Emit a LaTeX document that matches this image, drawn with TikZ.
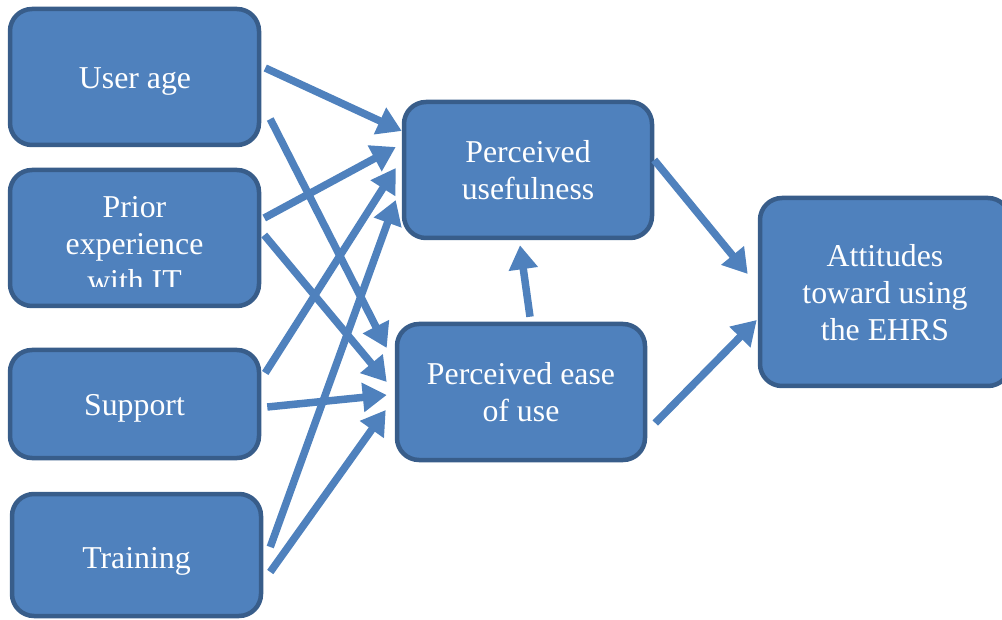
\documentclass[tikz,border=0pt]{standalone}
\usepackage{fontspec}
\setmainfont{Liberation Serif}
\usetikzlibrary{arrows.meta,calc}
\definecolor{boxfill}{HTML}{4F81BD}
\definecolor{boxline}{HTML}{385D8A}
\begin{document}
\begin{tikzpicture}[x=1pt,y=-1pt,
  box/.style={draw=boxline, line width=4.5pt, fill=boxfill, rounded corners=22pt, inner sep=0pt},
  lbl/.style={text=white, align=center, inner sep=0pt, anchor=base, font=\fontsize{31.8}{37}\selectfont},
  link/.style={draw=boxfill, line width=7.5pt, -{Triangle[length=24pt,width=28pt]}},
]
\useasboundingbox (0,0) rectangle (1002,620);
\clip (0,0) rectangle (1002,620);

% factor boxes
\node[box, minimum width=249pt, minimum height=136pt] (ua) at (134.5,77) {};
\node[box, minimum width=249pt, minimum height=136pt] (pe) at (134.5,238) {};
\node[box, minimum width=249pt, minimum height=108pt] (su) at (134.5,404) {};
\node[box, minimum width=249pt, minimum height=122pt] (tr) at (136.5,555) {};
% model boxes
\node[box, minimum width=248pt, minimum height=136pt] (pu) at (528,170) {};
\node[box, minimum width=248pt, minimum height=136pt] (pq) at (521,392) {};
\node[box, minimum width=250pt, minimum height=188pt] (at) at (885,292) {};

% labels (base anchor sits on the last line)
\node[lbl] (ua-t) at (135,89) {User age};
\begin{scope}
  \clip (10,170) rectangle (259,287);
  \node[lbl] (pe-t) at (134.5,292) {Prior\\experience\\with IT};
\end{scope}
\node[lbl] (su-t) at (134.5,415) {Support};
\node[lbl] (tr-t) at (136.5,568) {Training};
\node[lbl] (pu-t) at (528,200) {Perceived\\usefulness};
\node[lbl] (pq-t) at (521,421) {Perceived ease\\of use};
\node[lbl] (at-t) at (885,341) {Attitudes\\toward using\\the EHRS};

% paths
\draw[link] ($(ua.east)+(4,-9)$) -- ($(pu.west)+(0,-39)$);
\draw[link] ($(ua.east)+(9,42)$) -- ($(pq.west)+(-8,-44)$);
\draw[link] ($(pe.east)+(3,-20)$) -- ($(pu.west)+(-6,-23)$);
\draw[link] ($(pe.east)+(3,-3)$) -- ($(pq.west)+(-8,-10)$);
\draw[link] ($(su.east)+(4,-31)$) -- ($(pu.west)+(-6,-2)$);
\draw[link] ($(su.east)+(6,3)$) -- ($(pq.west)+(-8,3)$);
\draw[link] ($(tr.east)+(7,-8)$) -- ($(pu.west)+(-6,30)$);
\draw[link] ($(tr.east)+(7,17)$) -- ($(pq.west)+(-9,18)$);
\draw[link] ($(pq.north)+(9,-5)$) -- ($(pu.south)+(-8,5)$);
\draw[link] ($(pu.east)+(0,-10)$) -- ($(at.west)+(-10,-18)$);
\draw[link] ($(pq.east)+(8,31)$) -- ($(at.west)+(-1,28)$);
\end{tikzpicture}
\end{document}
